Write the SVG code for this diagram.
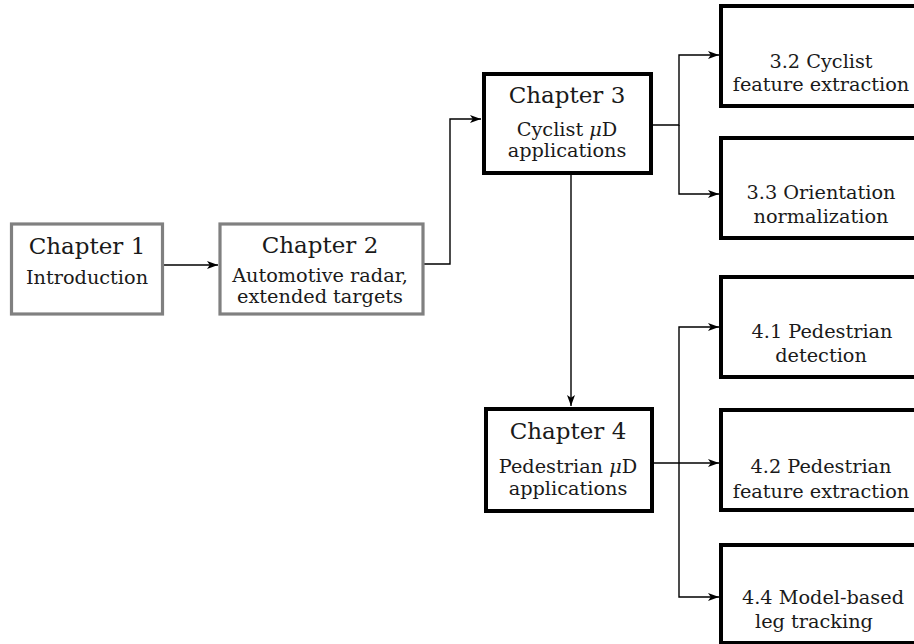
<svg xmlns="http://www.w3.org/2000/svg" width="914" height="644" viewBox="0 0 914 644">
<style>
.gray{fill:#ffffff;stroke:#808080;stroke-width:3.2}
.blk{fill:#ffffff;stroke:#000000;stroke-width:4}
.t{font-family:'DejaVu Serif','Liberation Serif',serif;fill:#1a1a1a;text-anchor:middle}
.h{font-size:23px}
.b{font-size:19.3px}
.c{fill:none;stroke:#000000;stroke-width:1.4}
</style>
<defs>
<marker id="ar" markerUnits="userSpaceOnUse" markerWidth="12" markerHeight="10" refX="11" refY="4" orient="auto">
<path d="M0,0 L11,4 L0,8 L2.8,4 Z" fill="#000000"/>
</marker>
</defs>
<rect width="914" height="644" fill="#ffffff"/>
<g id="connectors">
<path class="c" d="M163,265 H218" marker-end="url(#ar)"/>
<path class="c" d="M423,264 H450 V119 H481" marker-end="url(#ar)"/>
<path class="c" d="M571,175 V406" marker-end="url(#ar)"/>
<path class="c" d="M653,125 H679 V55 H719" marker-end="url(#ar)"/>
<path class="c" d="M679,125 V194 H719" marker-end="url(#ar)"/>
<path class="c" d="M654,463 H719" marker-end="url(#ar)"/>
<path class="c" d="M679,463 V327 H719" marker-end="url(#ar)"/>
<path class="c" d="M679,463 V597 H719" marker-end="url(#ar)"/>
</g>
<g id="ch1">
<rect class="gray" x="11.5" y="224" width="151" height="90"/>
<text class="t h" x="87" y="254">Chapter 1</text>
<text class="t b" x="87" y="284">Introduction</text>
</g>
<g id="ch2">
<rect class="gray" x="220" y="224" width="203" height="90"/>
<text class="t h" x="320" y="253">Chapter 2</text>
<text class="t b" x="320" y="282">Automotive radar,</text>
<text class="t b" x="320" y="303">extended targets</text>
</g>
<g id="ch3">
<rect class="blk" x="484" y="74" width="167" height="99"/>
<text class="t h" x="567" y="103">Chapter 3</text>
<text class="t b" x="567" y="136">Cyclist <tspan font-style="italic">μ</tspan>D</text>
<text class="t b" x="567" y="157">applications</text>
</g>
<g id="ch4">
<rect class="blk" x="486" y="409" width="166" height="102"/>
<text class="t h" x="568" y="439">Chapter 4</text>
<text class="t b" x="568" y="473">Pedestrian <tspan font-style="italic">μ</tspan>D</text>
<text class="t b" x="568" y="495">applications</text>
</g>
<g id="s32">
<rect class="blk" x="721" y="6" width="200" height="100"/>
<text class="t b" x="821" y="68">3.2 Cyclist</text>
<text class="t b" x="821" y="91">feature extraction</text>
</g>
<g id="s33">
<rect class="blk" x="721" y="138" width="200" height="100"/>
<text class="t b" x="821" y="199">3.3 Orientation</text>
<text class="t b" x="821" y="223">normalization</text>
</g>
<g id="s41">
<rect class="blk" x="721" y="277" width="200" height="100"/>
<text class="t b" x="822" y="338">4.1 Pedestrian</text>
<text class="t b" x="821" y="362">detection</text>
</g>
<g id="s42">
<rect class="blk" x="721" y="410" width="200" height="100"/>
<text class="t b" x="821" y="473">4.2 Pedestrian</text>
<text class="t b" x="821" y="498">feature extraction</text>
</g>
<g id="s44">
<rect class="blk" x="721" y="545" width="200" height="98"/>
<text class="t b" x="823" y="604">4.4 Model-based</text>
<text class="t b" x="814" y="628">leg tracking</text>
</g>
</svg>
